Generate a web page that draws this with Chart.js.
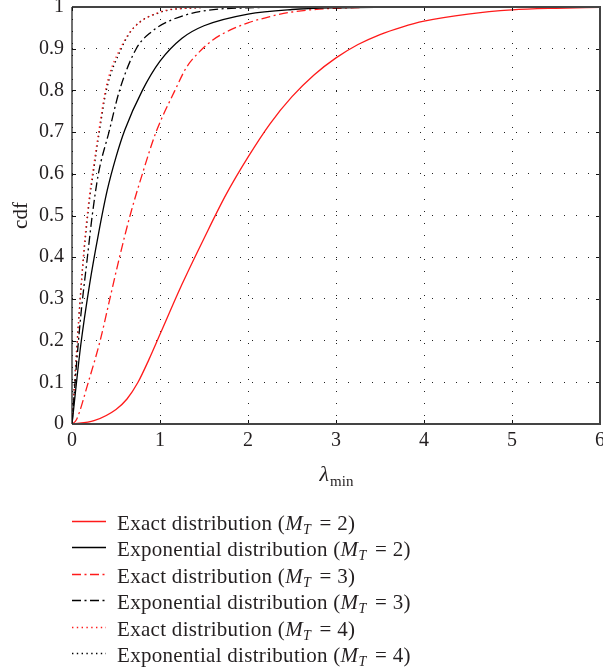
<!DOCTYPE html>
<html>
<head>
<meta charset="utf-8">
<script src="https://cdn.jsdelivr.net/npm/chart.js@4"></script>
<style>
  html, body { margin: 0; padding: 0; background: #fff; }
</style>
</head>
<body>
<canvas id="chart" width="603" height="672"></canvas>
<script>
// values (x = lambda_min, y = cdf)
const exactM2X = [0, 0.25, 0.5, 0.625, 0.75, 0.875, 1.0, 1.25, 1.5, 1.75, 2.0, 2.25, 2.5, 2.75, 3.0, 3.25, 3.5, 3.75, 4.0, 4.5, 5.0, 5.5, 6.0];
const exactM2Y = [0, 0.008, 0.035, 0.06, 0.1, 0.155, 0.215, 0.335, 0.445, 0.55, 0.64, 0.72, 0.785, 0.837, 0.878, 0.91, 0.934, 0.952, 0.966, 0.983, 0.993, 0.997, 0.999];

const expM2X = [0, 0.1, 0.2, 0.3, 0.4, 0.5, 0.6, 0.8, 1.0, 1.25, 1.5, 2.0, 2.5, 3.0, 4.0, 6.0];
const expM2Y = [0, 0.19, 0.335, 0.455, 0.56, 0.64, 0.705, 0.8, 0.87, 0.925, 0.955, 0.983, 0.994, 0.998, 1, 1];

const exactM3X = [0, 0.05, 0.185, 0.32, 0.43, 0.54, 0.66, 0.8, 0.955, 1.17, 1.3, 1.45, 1.6, 1.8, 2.0, 2.25, 2.5, 3.0, 4.0, 6.0];
const exactM3Y = [0, 0.01, 0.1, 0.2, 0.3, 0.4, 0.5, 0.6, 0.7, 0.8, 0.855, 0.893, 0.921, 0.945, 0.962, 0.977, 0.988, 0.997, 1, 1];

const expM3X = [0, 0.05, 0.1, 0.175, 0.23, 0.3, 0.42, 0.54, 0.73, 0.9, 1.1, 1.45, 2.0, 3.0, 6.0];
const expM3Y = [0, 0.14, 0.26, 0.4, 0.5, 0.6, 0.7, 0.8, 0.9, 0.94, 0.966, 0.989, 0.998, 1, 1];

const exactM4X = [0, 0.05, 0.1, 0.14, 0.2, 0.24, 0.31, 0.39, 0.56, 0.7, 1.0, 1.3, 2.0, 6.0];
const exactM4Y = [0, 0.16, 0.32, 0.43, 0.55, 0.61, 0.71, 0.81, 0.905, 0.95, 0.988, 0.997, 1, 1];

const expM4X = [0, 0.05, 0.1, 0.14, 0.2, 0.24, 0.31, 0.39, 0.56, 0.7, 1.0, 1.3, 2.0, 6.0];
const expM4Y = [0, 0.17, 0.32, 0.42, 0.54, 0.6, 0.7, 0.8, 0.9, 0.95, 0.987, 0.997, 1, 1];

const legendNames = ['Exact distribution', 'Exponential distribution', 'Exact distribution',
                     'Exponential distribution', 'Exact distribution', 'Exponential distribution'];
const mtValues = [2, 2, 3, 3, 4, 4];

const xTicks = [0, 1, 2, 3, 4, 5, 6];
const yTicks = [0, 0.1, 0.2, 0.3, 0.4, 0.5, 0.6, 0.7, 0.8, 0.9, 1];

const SERIF = '"Liberation Serif", "DejaVu Serif", serif';
const INK = '#231f20';
const RED = '#ff1a1a';
const DASHDOT = [9, 3.5, 2, 3.5];
const DOTS = [1.4, 3.4];

function pts(xs, ys) {
    return xs.map((x, i) => ({ x: x, y: ys[i] }));
}

function line(data, color, dash) {
    return {
        data: data,
        borderColor: color,
        borderWidth: 1.3,
        borderDash: dash,
        pointRadius: 0,
        fill: false,
        cubicInterpolationMode: 'monotone'
    };
}

// box round the plot plus small inward ticks
const boxPlugin = {
    id: 'box',
    afterDatasetsDraw(chart) {
        const c = chart.ctx;
        const a = chart.chartArea;
        const xs = chart.scales.x, ys = chart.scales.y;
        c.save();
        c.strokeStyle = '#111';
        c.lineWidth = 1;
        xTicks.forEach(t => {
            const px = Math.round(xs.getPixelForValue(t)) + 0.5;
            c.beginPath();
            c.moveTo(px, a.bottom); c.lineTo(px, a.bottom - 4);
            c.moveTo(px, a.top); c.lineTo(px, a.top + 4);
            c.stroke();
        });
        yTicks.forEach(t => {
            const py = Math.round(ys.getPixelForValue(t)) + 0.5;
            c.beginPath();
            c.moveTo(a.left, py); c.lineTo(a.left + 4, py);
            c.moveTo(a.right, py); c.lineTo(a.right - 4, py);
            c.stroke();
        });
        c.strokeStyle = '#444';
        c.lineWidth = 2;
        c.beginPath();
        c.moveTo(a.left, a.top); c.lineTo(a.right, a.top); c.lineTo(a.right, a.bottom); c.lineTo(a.left, a.bottom);
        c.stroke();
        c.strokeStyle = '#111';
        c.lineWidth = 1.2;
        c.beginPath();
        c.moveTo(a.left, a.top); c.lineTo(a.left, a.bottom);
        c.stroke();
        c.restore();
    }
};

// x axis title with subscript, and the legend below the plot
const textPlugin = {
    id: 'texts',
    afterDraw(chart) {
        const c = chart.ctx;
        const a = chart.chartArea;
        c.save();
        c.fillStyle = INK;
        c.textBaseline = 'alphabetic';

        // lambda_min
        c.font = 'italic 22px ' + SERIF;
        const wl = c.measureText('λ').width;
        c.font = '15px ' + SERIF;
        const ws = c.measureText('min').width;
        let x = (a.left + a.right) / 2 - (wl + ws) / 2;
        c.font = 'italic 22px ' + SERIF;
        c.fillText('λ', x, 481);
        c.font = '15px ' + SERIF;
        c.fillText('min', x + wl + 1, 486);

        c.letterSpacing = '0.3px';
        chart.data.datasets.forEach((ds, i) => {
            const y = Math.round(521 + i * 26.4) + 0.5;
            c.save();
            c.strokeStyle = ds.borderColor;
            c.lineWidth = ds.borderWidth;
            c.setLineDash(ds.borderDash || []);
            c.beginPath();
            c.moveTo(72, y); c.lineTo(106, y);
            c.stroke();
            c.restore();

            const base = y + 8.5;
            let tx = 117;
            c.font = '21px ' + SERIF;
            const s1 = legendNames[i] + ' (';
            c.fillText(s1, tx, base); tx += c.measureText(s1).width;
            c.font = 'italic 21px ' + SERIF;
            c.fillText('M', tx, base); tx += c.measureText('M').width;
            c.font = 'italic 14px ' + SERIF;
            c.fillText('T', tx, base + 4); tx += c.measureText('T').width + 3;
            c.font = '21px ' + SERIF;
            c.fillText(' = ' + mtValues[i] + ')', tx, base);
        });
        c.restore();
    }
};

new Chart(document.getElementById('chart'), {
    type: 'line',
    data: {
        datasets: [
            line(pts(exactM2X, exactM2Y), RED, []),
            line(pts(expM2X, expM2Y), '#000', []),
            line(pts(exactM3X, exactM3Y), RED, DASHDOT),
            line(pts(expM3X, expM3Y), '#000', DASHDOT),
            line(pts(exactM4X, exactM4Y), RED, DOTS),
            line(pts(expM4X, expM4Y), '#000', DOTS)
        ]
    },
    options: {
        responsive: false,
        animation: false,
        layout: { padding: { top: 7, right: 3, bottom: 218, left: 0 } },
        plugins: {
            legend: { display: false },
            tooltip: { enabled: false }
        },
        scales: {
            x: {
                type: 'linear',
                min: 0,
                max: 6,
                afterBuildTicks: s => { s.ticks = xTicks.map(v => ({ value: v })); },
                afterFit: s => { s.height = 30; s.paddingLeft = 0; s.paddingRight = 0; },
                ticks: { color: INK, font: { family: SERIF, size: 20 }, padding: 5 },
                grid: { color: '#222', lineWidth: 1, drawTicks: false },
                border: { display: false, dash: [1, 11] }
            },
            y: {
                min: 0,
                max: 1,
                afterBuildTicks: s => { s.ticks = yTicks.map(v => ({ value: v })); },
                afterFit: s => { s.width = 72; s.paddingTop = 0; s.paddingBottom = 0; },
                ticks: {
                    color: INK, font: { family: SERIF, size: 20 }, padding: 8,
                    callback: v => String(+v.toFixed(1))
                },
                grid: { color: '#222', lineWidth: 1, drawTicks: false },
                border: { display: false, dash: [1, 11] },
                title: { display: true, text: 'cdf', color: INK, font: { family: SERIF, size: 21 }, padding: { top: 9, bottom: 0 } }
            }
        }
    },
    plugins: [boxPlugin, textPlugin]
});
</script>
</body>
</html>
